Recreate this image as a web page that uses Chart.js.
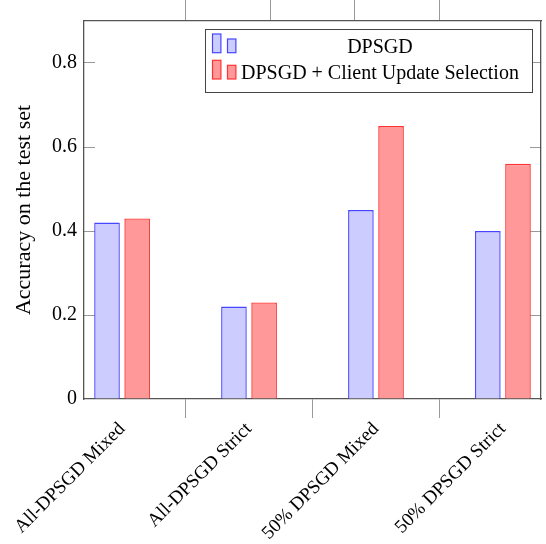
<!DOCTYPE html>
<html>
<head>
<meta charset="utf-8">
<script src="https://cdn.jsdelivr.net/npm/chart.js@4"></script>
<style>
  html, body { margin: 0; padding: 0; background: #fff; }
  #wrap { width: 546px; height: 544px; }
</style>
</head>
<body>
<div id="wrap"><canvas id="chart"></canvas></div>
<script>
const categories = ['All-DPSGD Mixed', 'All-DPSGD Strict', '50% DPSGD Mixed', '50% DPSGD Strict'];
const dpsgd = [0.42, 0.22, 0.45, 0.40];
const dpsgdSelection = [0.43, 0.23, 0.65, 0.56];
const yTicks = [0, 0.2, 0.4, 0.6, 0.8];
const yTickLabels = ['0', '0.2', '0.4', '0.6', '0.8'];
const seriesNames = ['DPSGD', 'DPSGD + Client Update Selection'];

const FONT = '"Liberation Serif", "DejaVu Serif", serif';
const FRAME = '#555';
const TICK = '#999';
const NONE = 'rgba(0,0,0,0)';

const xMin = -0.3;
const xMax = categories.length - 0.7;

// separators between groups, at i + 0.5
const separators = categories.slice(1).map((c, i) => i + 0.5);
const xTicks = categories.map((c, i) => i).concat(separators).sort((a, b) => a - b);

const toPoints = (vals) => vals.map((v, i) => ({ x: i, y: v }));

Chart.defaults.font.family = FONT;
Chart.defaults.font.size = 20;
Chart.defaults.color = '#000';

const noPad = s => { s.paddingLeft = 0; s.paddingRight = 0; s.paddingTop = 0; s.paddingBottom = 0; };

const legendBox = {
  id: 'legendBox',
  afterDraw(chart) {
    const { ctx, chartArea } = chart;
    ctx.save();
    ctx.font = '20px ' + FONT;
    const textW = Math.max(...chart.data.datasets.map(d => ctx.measureText(d.label).width));
    const w = 7 + 24 + 5 + textW + 13;
    const h = 63;
    const right = chartArea.right - 9;
    const left = Math.round(right - w);
    const top = Math.round(chartArea.top + 8);
    ctx.fillStyle = '#fff';
    ctx.fillRect(left, top, w, h);
    ctx.strokeStyle = '#444';
    ctx.lineWidth = 1;
    ctx.strokeRect(left + 0.5, top + 0.5, Math.round(w), h);
    chart.data.datasets.forEach((ds, i) => {
      const cy = top + 18.7 + i * 26.3;
      ctx.fillStyle = ds.backgroundColor;
      ctx.strokeStyle = ds.borderColor;
      ctx.lineWidth = 1.2;
      ctx.fillRect(left + 7.5, cy - 13.7, 8.4, 18.7);
      ctx.strokeRect(left + 7.5, cy - 13.7, 8.4, 18.7);
      ctx.fillRect(left + 22.5, cy - 8.7, 8.4, 13.7);
      ctx.strokeRect(left + 22.5, cy - 8.7, 8.4, 13.7);
      ctx.fillStyle = '#000';
      ctx.textAlign = 'center';
      ctx.textBaseline = 'middle';
      ctx.fillText(ds.label, left + 36 + textW / 2, cy);
    });
    ctx.restore();
  }
};

new Chart(document.getElementById('chart'), {
  type: 'bar',
  data: {
    datasets: [
      {
        label: seriesNames[0],
        data: toPoints(dpsgd),
        backgroundColor: 'rgb(204,204,255)',
        borderColor: 'rgb(70,70,255)',
        borderWidth: 1.4
      },
      {
        label: seriesNames[1],
        data: toPoints(dpsgdSelection),
        backgroundColor: 'rgb(255,153,153)',
        borderColor: 'rgb(255,50,50)',
        borderWidth: 1.4
      }
    ]
  },
  options: {
    responsive: true,
    maintainAspectRatio: false,
    animation: false,
    devicePixelRatio: 1,
    layout: { padding: 0 },
    categoryPercentage: 0.95,
    barPercentage: 0.85,
    plugins: {
      legend: { display: false },
      tooltip: { enabled: false }
    },
    scales: {
      x: {
        type: 'linear',
        position: 'bottom',
        min: xMin,
        max: xMax,
        offset: false,
        afterBuildTicks: s => { s.ticks = xTicks.map(v => ({ value: v })); },
        afterFit: s => { s.height = 145; noPad(s); },
        ticks: {
          autoSkip: false,
          minRotation: 45,
          maxRotation: 45,
          padding: 0,
          font: { size: 19 },
          callback: v => Number.isInteger(v) ? categories[v] : ''
        },
        grid: {
          offset: false,
          drawOnChartArea: false,
          tickLength: 19,
          color: c => (c.index % 2 === 1 ? TICK : NONE)
        },
        border: { color: FRAME, width: 1.3 }
      },
      xTop: {
        type: 'linear',
        position: 'top',
        min: xMin,
        max: xMax,
        afterBuildTicks: s => { s.ticks = separators.map(v => ({ value: v })); },
        afterFit: s => { s.height = 21; noPad(s); },
        ticks: { display: false },
        grid: { drawOnChartArea: false, tickLength: 21, color: TICK },
        border: { color: FRAME, width: 1.3 }
      },
      y: {
        type: 'linear',
        position: 'left',
        min: 0,
        max: 0.9,
        afterBuildTicks: s => { s.ticks = yTicks.map(v => ({ value: v })); },
        afterFit: s => { s.width = 84; noPad(s); },
        ticks: {
          padding: 18,
          callback: (v, i) => yTickLabels[i]
        },
        grid: {
          drawOnChartArea: false,
          tickLength: -11,
          color: c => (c.index === 0 ? NONE : TICK)
        },
        border: { color: FRAME, width: 1.3 },
        title: {
          display: true,
          text: 'Accuracy on the test set',
          font: { size: 22 },
          padding: { top: 11, bottom: 0 }
        }
      },
      yRight: {
        type: 'linear',
        position: 'right',
        min: 0,
        max: 0.9,
        afterBuildTicks: s => { s.ticks = yTicks.map(v => ({ value: v })); },
        afterFit: s => { s.width = 5; noPad(s); },
        ticks: { display: false },
        grid: {
          drawOnChartArea: false,
          tickLength: -11,
          color: c => (c.index === 0 ? NONE : TICK)
        },
        border: { color: FRAME, width: 1.3 }
      }
    }
  },
  plugins: [legendBox]
});
</script>
</body>
</html>
